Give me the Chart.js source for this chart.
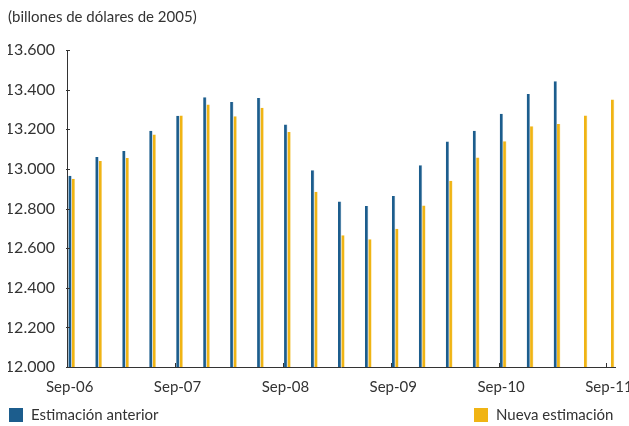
<!DOCTYPE html>
<html>
<head>
<meta charset="utf-8">
<script src="https://cdn.jsdelivr.net/npm/chart.js@4/dist/chart.umd.min.js"></script>
<style>
  body { margin: 0; background: #fff; }
  #wrap { position: relative; width: 629px; height: 426px; }
  #myChart { position: absolute; left: 0; top: 0; }
  .leg { position: absolute; top: 403px; font-family: Lato, sans-serif; font-size: 15px; color: #333; line-height: 22px; white-space: nowrap; }
  .leg span { display: inline-block; width: 14px; height: 14px; vertical-align: -2px; margin-right: 8px; }
</style>
</head>
<body>
<div id="wrap">
  <canvas id="myChart" width="629" height="426"></canvas>
  <div class="leg" style="left:9px"><span style="background:#1c5d8d"></span>Estimación anterior</div>
  <div class="leg" style="left:474px"><span style="background:#f0b414"></span>Nueva estimación</div>
</div>
<script>
// quarters, Sep-06 .. Sep-11
const quarters = ['Sep-06', 'Dic-06', 'Mar-07', 'Jun-07', 'Sep-07', 'Dic-07', 'Mar-08', 'Jun-08', 'Sep-08',
  'Dic-08', 'Mar-09', 'Jun-09', 'Sep-09', 'Dic-09', 'Mar-10', 'Jun-10', 'Sep-10', 'Dic-10', 'Mar-11', 'Jun-11', 'Sep-11'];
const anterior = [12965, 13060, 13090, 13193, 13268, 13362, 13338, 13358, 13224, 12993, 12835,
  12812, 12863, 13018, 13138, 13193, 13278, 13378, 13442];
const nueva = [12950, 13040, 13055, 13173, 13270, 13325, 13265, 13308, 13186, 12885, 12665,
  12645, 12698, 12815, 12940, 13058, 13140, 13215, 13227, 13270, 13350];
const yTicks = [12000, 12200, 12400, 12600, 12800, 13000, 13200, 13400, 13600];

const axisColor = '#333';

// short tick marks pointing into the plot
const tickMarks = {
    id: 'tickMarks',
    afterDraw(chart) {
        const ctx = chart.ctx;
        const x = chart.scales.x, y = chart.scales.y;
        ctx.save();
        ctx.strokeStyle = axisColor;
        ctx.lineWidth = 1;
        ctx.beginPath();
        y.ticks.forEach(t => {
            const py = Math.round(y.getPixelForValue(t.value)) + 0.5;
            ctx.moveTo(x.left - 1, py);
            ctx.lineTo(x.left + 3, py);
        });
        x.ticks.forEach(t => {
            if (t.value === 0) return;
            const px = Math.round(x.getPixelForValue(t.value) - 4.5) + 0.5;
            ctx.moveTo(px, y.bottom);
            ctx.lineTo(px, y.bottom - 4);
        });
        ctx.stroke();
        ctx.restore();
    }
};

const ctx = document.getElementById('myChart').getContext('2d');
new Chart(ctx, {
    type: 'bar',
    data: {
        datasets: [{
            label: 'Estimación anterior',
            data: anterior.map((v, i) => ({ x: i, y: v })),
            backgroundColor: '#1c5d8d',
            borderColor: '#8fb0c8',
            borderWidth: { right: 0.6 }
        }, {
            label: 'Nueva estimación',
            data: nueva.map((v, i) => ({ x: i, y: v })),
            backgroundColor: '#f0b414',
            borderColor: '#f6d680',
            borderWidth: { right: 0.6 }
        }]
    },
    options: {
        responsive: false,
        animation: false,
        categoryPercentage: 0.25,
        barPercentage: 1,
        layout: { padding: { left: 8, right: 14, top: 0, bottom: 0 } },
        plugins: {
            legend: { display: false },
            tooltip: { enabled: false },
            title: {
                display: true,
                text: '(billones de dólares de 2005)',
                align: 'start',
                color: axisColor,
                font: { family: 'Lato', size: 15, weight: 'normal' },
                padding: { top: 8, bottom: 24 }
            }
        },
        scales: {
            x: {
                type: 'linear',
                offset: false,
                min: -0.175,
                max: 20.15,
                grid: { display: false, drawTicks: false, offset: false },
                border: { color: axisColor, width: 1 },
                ticks: {
                    stepSize: 4,
                    includeBounds: false,
                    maxRotation: 0,
                    autoSkip: false,
                    padding: 11,
                    labelOffset: -2,
                    color: axisColor,
                    font: { family: 'Lato', size: 15 },
                    callback: v => quarters[v] !== undefined && v % 4 === 0 ? quarters[v] : ''
                },
                afterFit: s => { s.height = 59; s.paddingLeft = 0; s.paddingRight = 0; }
            },
            y: {
                min: 12000,
                max: 13600,
                grid: { display: false, drawTicks: false },
                border: { color: axisColor, width: 1 },
                afterBuildTicks: s => { s.ticks = yTicks.map(v => ({ value: v })); },
                ticks: {
                    padding: 12,
                    color: axisColor,
                    font: { family: 'Lato', size: 16 },
                    callback: v => v.toLocaleString('de-DE')
                },
                afterFit: s => { s.width = 59; }
            }
        }
    },
    plugins: [tickMarks]
});
</script>
</body>
</html>
